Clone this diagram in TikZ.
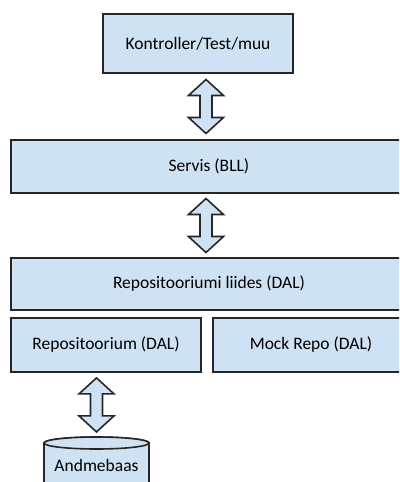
\documentclass[tikz,border=0pt]{standalone}
\usepackage{fontspec}
\setmainfont{Carlito}
\usetikzlibrary{calc}
\definecolor{boxfill}{HTML}{CFE2F3}
\definecolor{boxline}{HTML}{262626}
\tikzset{
  layer/.style={draw=boxline, fill=boxfill, line width=1.6pt, inner sep=0pt, font=\fontsize{17.5}{20}\selectfont},
  dbl/.pic={\filldraw[draw=boxline, fill=boxfill, line width=1.6pt, line join=miter]
    (0,-27) -- (17.5,-11) -- (6,-11) -- (6,11) -- (17.5,11) -- (0,27) -- (-17.5,11) -- (-6,11) -- (-6,-11) -- (-17.5,-11) -- cycle;}
}
\begin{document}
\begin{tikzpicture}[x=1pt,y=-1pt]
\useasboundingbox (0,0) rectangle (399,482);
\clip (0,0) rectangle (399,482);
\node[layer, minimum width=190pt, minimum height=59pt] (k) at (198,43.5) {Kontroller/Test/muu};
\node[layer, minimum width=396pt, minimum height=53pt] (s) at (209,166.5) {Servis (BLL)};
\node[layer, minimum width=396pt, minimum height=52pt] (r) at (209,284) {Repositooriumi liides (DAL)};
\node[layer, minimum width=190pt, minimum height=54pt] (rp) at (106,345) {Repositoorium (DAL)};
\node[layer, minimum width=196pt, minimum height=54pt] (m) at (311,345) {Mock Repo (DAL)};
% database cylinder
\coordinate (dbtop) at (96.5,443);
\filldraw[draw=boxline, fill=boxfill, line width=1.6pt]
  (44,443) -- (44,495) -- (149,495) -- (149,443) arc[start angle=0, end angle=-180, x radius=52.5, y radius=6];
\filldraw[draw=boxline, fill=boxfill, line width=1.6pt] (dbtop) ellipse[x radius=52.5, y radius=6];
\node[font=\fontsize{17.5}{20}\selectfont] (db) at (96.5,465) {Andmebaas};
% arrows
\coordinate (a1) at ($(k.south)!0.5!(s.north)+(2.5,0)$);
\pic at (a1) {dbl};
\coordinate (m2) at ($(s.south)!0.5!(r.north)$);
\coordinate (a2) at (a1 |- m2);
\pic at (a2) {dbl};
\coordinate (m3) at ($(rp.south)!0.5!(dbtop)+(0,-3)$);
\coordinate (a3) at (dbtop |- m3);
\pic at (a3) {dbl};
\end{tikzpicture}
\end{document}
